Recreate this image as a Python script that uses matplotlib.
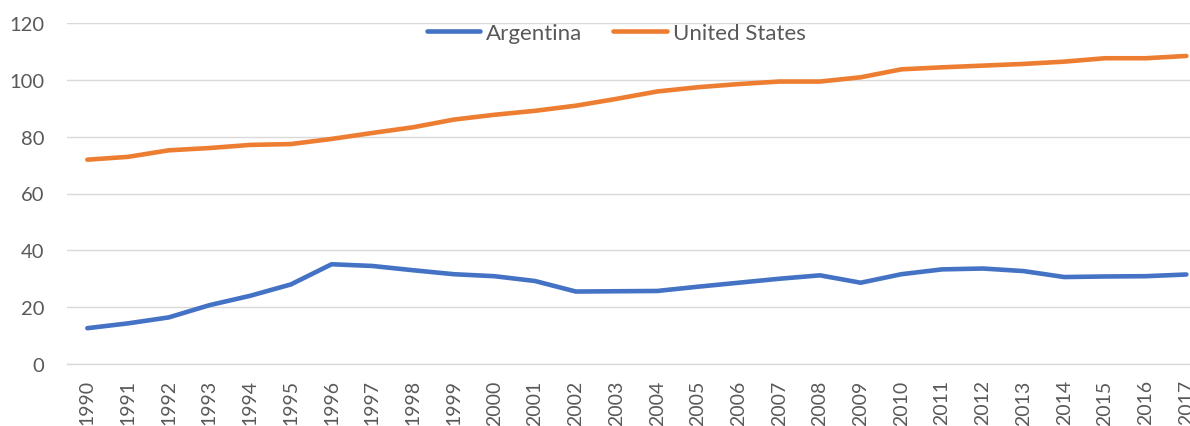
import matplotlib
matplotlib.use("Agg")
import matplotlib.pyplot as plt

years = list(range(1990, 2018))
argentina = [12.6, 14.3, 16.4, 20.7, 24.0, 28.0, 35.1, 34.5, 33.0, 31.6,
             30.9, 29.2, 25.5, 25.6, 25.7, 27.2, 28.6, 30.0, 31.2, 28.6,
             31.6, 33.3, 33.6, 32.7, 30.6, 30.8, 30.9, 31.5]
united_states = [71.9, 72.9, 75.2, 76.0, 77.1, 77.4, 79.2, 81.3, 83.3, 86.0,
                 87.7, 89.1, 90.9, 93.3, 95.9, 97.4, 98.5, 99.4, 99.4, 100.9,
                 103.7, 104.4, 105.0, 105.6, 106.4, 107.6, 107.6, 108.4]
y_ticks = [0, 20, 40, 60, 80, 100, 120]

W, H = 1190, 427
fig = plt.figure(figsize=(W / 100, H / 100), dpi=100)
ax = fig.add_axes([67 / W, 1 - 365 / H, (W - 67) / W, (365 - 24) / H])

ax.plot(years, argentina, color="#4472C4", lw=3.3, label="Argentina",
        solid_capstyle="round", solid_joinstyle="round", zorder=3)
ax.plot(years, united_states, color="#ED7D31", lw=3.3, label="United States",
        solid_capstyle="round", solid_joinstyle="round", zorder=3)

ax.set_ylim(0, 120)
ax.set_xlim(1989.5, 2017.09)
ax.set_yticks(y_ticks)
ax.set_xticks(years)
ax.set_xticklabels([str(y) for y in years], rotation=90)
ax.grid(axis="y", color="#D9D9D9", lw=1.0, zorder=0)
ax.set_axisbelow(True)
for s in ["top", "right", "left"]:
    ax.spines[s].set_visible(False)
ax.spines["bottom"].set_color("#D9D9D9")
ax.spines["bottom"].set_linewidth(1.0)
ax.tick_params(axis="both", length=0, colors="#595959")
for lab in ax.get_yticklabels():
    lab.set_family("Lato")
    lab.set_fontsize(14.5)
for lab in ax.get_xticklabels():
    lab.set_family("Lato")
    lab.set_fontsize(14)
ax.tick_params(axis="y", pad=16.5)
ax.tick_params(axis="x", pad=11)

leg = ax.legend(loc="center", bbox_to_anchor=(0.489, 0.972), ncol=2, frameon=False,
                prop={"family": "Lato", "size": 16}, handlelength=2.4,
                handletextpad=0.27, columnspacing=1.4, borderpad=0)
for t in leg.get_texts():
    t.set_color("#595959")

fig.savefig("out.png", dpi=100)
